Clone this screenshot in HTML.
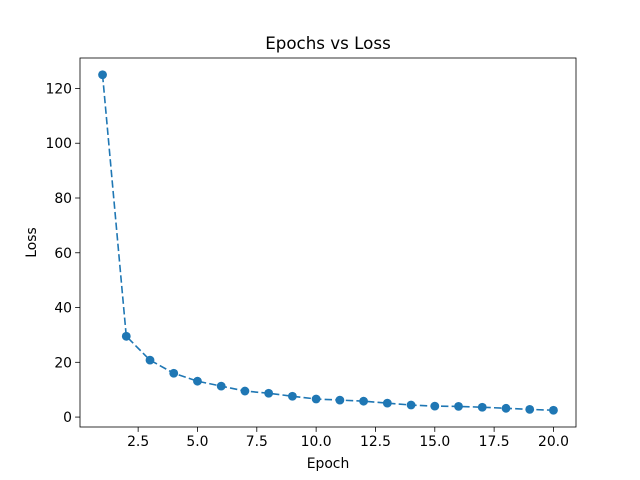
<!DOCTYPE html>
<html><head><meta charset="utf-8"><style>body{margin:0;background:#fff}svg{display:block;font-family:"DejaVu Sans","Liberation Sans",sans-serif}</style></head>
<body>
<svg id="c" width="640" height="480"></svg>
<script>
const epochs=[1,2,3,4,5,6,7,8,9,10,11,12,13,14,15,16,17,18,19,20];
const losses=[125,29.5,20.8,16,13.1,11.3,9.5,8.7,7.6,6.6,6.2,5.8,5.1,4.4,4.0,3.9,3.6,3.2,2.8,2.5];
const xTicks=[2.5,5.0,7.5,10.0,12.5,15.0,17.5,20.0];
const yTicks=[0,20,40,60,80,100,120];
const L=80,R=576,T=58,B=427;
const xmin=Math.min(...epochs),xmax=Math.max(...epochs),xm=(xmax-xmin)*0.05;
const ymin=Math.min(...losses),ymax=Math.max(...losses),ym=(ymax-ymin)*0.05;
const x=v=>L+(v-(xmin-xm))/((xmax+xm)-(xmin-xm))*(R-L);
const y=v=>B-(v-(ymin-ym))/((ymax+ym)-(ymin-ym))*(B-T);
const svg=document.getElementById('c');const NS='http://www.w3.org/2000/svg';
function mk(t,a,txt){const e=document.createElementNS(NS,t);for(const k in a)e.setAttribute(k,a[k]);if(txt!=null)e.textContent=txt;svg.appendChild(e);return e;}
let e;
e=mk('rect',{x:L,y:T,width:R-L,height:B-T,fill:'none',stroke:'#000','stroke-width':0.8});


xTicks.forEach(v=>{const px=x(v);
e=mk('line',{x1:px,x2:px,y1:B,y2:B+4.9,stroke:'#000','stroke-width':0.8});


e=mk('text',{x:px,y:B+19,'font-size':13.9,'text-anchor':'middle'},v.toFixed(1));

});
yTicks.forEach(v=>{const py=y(v);
e=mk('line',{x1:L-4.9,x2:L,y1:py,y2:py,stroke:'#000','stroke-width':0.8});


e=mk('text',{x:L-8,y:py+5,'font-size':13.9,'text-anchor':'end'},String(v));

});
e=mk('polyline',{points:epochs.map((v,i)=>x(v)+','+y(losses[i])).join(' '),fill:'none',stroke:'#1f77b4','stroke-width':1.6,'stroke-dasharray':'7.4,3.2'});


epochs.forEach((v,i)=>{e=mk('circle',{cx:x(v),cy:y(losses[i]),r:4.4,fill:'#1f77b4'});

});
e=mk('text',{x:(L+R)/2,y:B+41,'font-size':13.9,'text-anchor':'middle'},'Epoch');


e=mk('text',{x:36,y:(T+B)/2,'font-size':13.9,'text-anchor':'middle',transform:'rotate(-90 36 '+((T+B)/2)+')'},'Loss');


e=mk('text',{x:(L+R)/2,y:T-9,'font-size':16.7,'text-anchor':'middle'},'Epochs vs Loss');


</script>
</body></html>
